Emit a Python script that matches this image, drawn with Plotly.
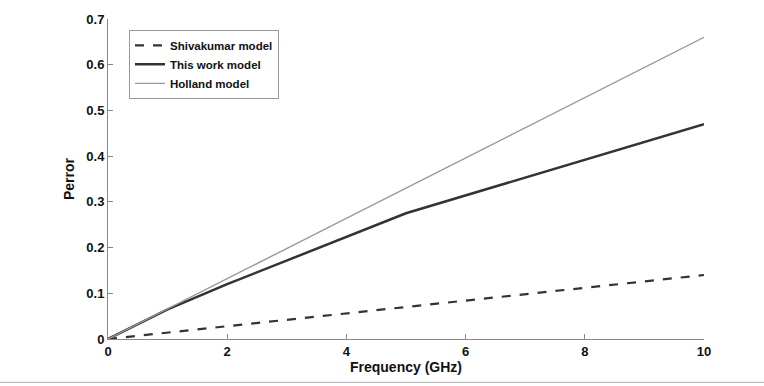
import plotly.graph_objects as go

freq_shiv = [0, 10]
perr_shiv = [0, 0.14]
freq_this = [0, 1, 2, 5, 10]
perr_this = [0, 0.065, 0.12, 0.275, 0.47]
freq_holl = [0, 10]
perr_holl = [0, 0.66]

W, H = 764, 386
ml, mr, mt, mb = 108, 60, 14, 47
pw, ph = W - ml - mr, H - mt - mb

fig = go.Figure()
fig.add_trace(go.Scatter(x=freq_shiv, y=perr_shiv, mode="lines", name="Shivakumar model",
                         line=dict(color="#333333", width=2.2, dash="dash")))
fig.add_trace(go.Scatter(x=freq_this, y=perr_this, mode="lines", name="This work model",
                         line=dict(color="#333333", width=2.5)))
fig.add_trace(go.Scatter(x=freq_holl, y=perr_holl, mode="lines", name="Holland model",
                         line=dict(color="#999999", width=1.4)))

fam = "Liberation Sans, Arial"
fig.update_layout(
    width=W, height=H,
    margin=dict(l=ml, r=mr, t=mt, b=mb),
    paper_bgcolor="white", plot_bgcolor="white",
    font=dict(family=fam, size=13, color="#111111"),
    showlegend=True,
    legend=dict(x=(129 - ml) / pw, y=(339 - 25) / ph, xanchor="left", yanchor="top",
                bordercolor="#999999", borderwidth=1, bgcolor="white",
                font=dict(family=fam, size=11.5, color="#111111", weight="bold"),
                itemwidth=30, tracegroupgap=0),
    xaxis=dict(range=[0, 10], tickvals=[0, 2, 4, 6, 8, 10], ticks="inside", ticklen=5,
               tickcolor="#888888", showline=True, linecolor="#888888", linewidth=1,
               showgrid=False, zeroline=False,
               tickfont=dict(family=fam, size=13, weight="bold"),
               title=dict(text="Frequency (GHz)", standoff=4,
                          font=dict(family=fam, size=14, weight="bold"))),
    yaxis=dict(range=[0, 0.7], tickvals=[0, 0.1, 0.2, 0.3, 0.4, 0.5, 0.6, 0.7], ticks="inside",
               ticklen=5, tickcolor="#888888", showline=True, linecolor="#888888", linewidth=1,
               showgrid=False, zeroline=False,
               tickfont=dict(family=fam, size=13, weight="bold"),
               title=dict(text="Perror", standoff=8,
                          font=dict(family=fam, size=14, weight="bold"))),
)
fig.add_shape(type="line", xref="paper", yref="paper",
              x0=-ml / pw, x1=(W - ml) / pw, y0=-(383 - 339) / ph, y1=-(383 - 339) / ph,
              line=dict(color="#aaaaaa", width=1))
fig.write_html("out.html")
